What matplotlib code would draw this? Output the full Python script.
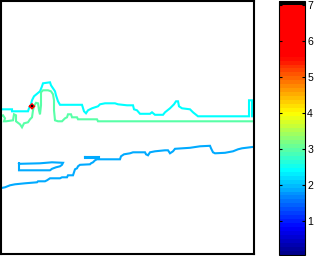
#!/usr/bin/env python3
# -*- coding: utf-8 -*-

import numpy as np
import matplotlib
matplotlib.use("Agg")
import matplotlib.pyplot as plt
from matplotlib.colors import LinearSegmentedColormap, ListedColormap, Normalize
from matplotlib.cm import ScalarMappable

plt.rcParams['font.family'] = ['Liberation Sans', 'DejaVu Sans']

# contour pieces (image coords, y downwards)
blue_x = [0, 5, 10, 15, 25, 37, 38, 45, 47, 50, 60, 62, 67, 68, 73, 74, 75, 77, 78, 80,
          90, 91, 93, 95, 97, 120, 121, 124, 130, 133, 145, 146, 148, 150, 155, 165,
          168, 170, 173, 175, 190, 200, 210, 211, 213, 215, 225, 233, 238, 242, 250, 254]
blue_y = [188, 187, 185, 184, 183, 182, 181, 181, 180, 178, 178, 177, 177, 175, 175, 172,
          169, 168, 166, 164.5, 164, 163, 162, 160, 159, 159, 156, 154, 153, 152, 152,
          154, 155, 152, 151, 150, 150, 153, 151, 148.5, 147.5, 146, 145.5, 148, 152, 153,
          152.5, 151, 149, 148, 147, 146.5]

loop_x = [19, 19, 50, 52, 56, 60, 62, 63, 52, 40, 20, 19]
loop_y = [163, 170, 170, 168.5, 167, 166, 164.5, 162.5, 162, 163, 163.5, 163]

blob_x = [85, 99, 99, 85, 85]
blob_y = [156.5, 156.5, 157.5, 157.5, 156.5]

cyan_x = [1, 12, 12, 28, 29, 31, 32, 34, 40, 42, 43, 50, 51, 55, 56, 58, 60, 82, 84, 86,
          88, 92, 98, 100, 105, 115, 118, 127, 133, 134, 137, 140, 150, 152, 155, 163,
          165, 170, 174, 176, 178, 179, 182, 190, 193, 198, 203, 249, 249, 252, 252]
cyan_y = [109, 109, 111, 111, 108, 104, 100, 96, 91, 86, 83, 82, 85, 91, 95, 101, 104.5,
          104.5, 111, 113, 110, 108, 106, 104, 103, 103, 104, 105, 105, 109, 110, 113.5,
          113.5, 112, 114.5, 114.5, 112, 108, 104, 101, 101, 106, 108, 109, 112, 116,
          116, 116, 100, 100, 116]

green_x = [1, 3, 5, 4, 6, 13, 14, 16, 16, 20, 22, 24, 28, 30, 32, 33, 34, 36, 38, 39,
           40, 41, 41, 43, 48, 51, 53, 54, 54, 55, 58, 62, 65, 67, 68, 71, 72, 77, 78,
           97, 98, 254]
green_y = [116, 115, 118, 121, 121, 120, 114, 115, 121, 124, 127, 123, 122, 119, 117, 110,
           106, 102.5, 103, 110, 114, 105, 92, 90, 90, 91, 94, 100, 110, 120, 121, 121,
           118, 117, 114, 114, 117, 117, 119, 119, 121, 121]

red_x = [30, 32, 34, 32, 30]
red_y = [106, 104, 106, 108, 106]

peak_x = [31.6, 32.4, 32.4, 31.6, 31.6]
peak_y = [105.6, 105.6, 106.4, 106.4, 105.6]

pieces = [(blue_x, blue_y, 1.9), (loop_x, loop_y, 1.9), (blob_x, blob_y, 1.9),
          (cyan_x, cyan_y, 2.4), (green_x, green_y, 2.95),
          (red_x, red_y, 6.0), (peak_x, peak_y, 7.08)]

cb_ticks = [1, 2, 3, 4, 5, 6, 7]
vmin, vmax = 0.05, 7.1


if __name__ == "__main__":

    # jet-like map that saturates to red, top band black
    base = LinearSegmentedColormap.from_list(
        'jetred', [(0.0, (0, 0, 0.55)), (0.1, (0, 0, 1)), (0.333, (0, 1, 1)),
                   (0.56, (1, 1, 0)), (0.79, (1, 0, 0)), (1.0, (1, 0, 0))])
    cols = base(np.linspace(0, 1, 64))
    cols[-1] = (0, 0, 0, 1)
    cmap = ListedColormap(cols)
    norm = Normalize(vmin, vmax)

    fig = plt.figure(figsize=(3.26, 2.56), dpi=100)
    ax = fig.add_axes([1/326, 1.7/256, 253/326, 253/256])

    for xs, ys, lev in pieces:
        ax.plot(xs, ys, color=cmap(norm(lev)), lw=1.5, solid_joinstyle='miter')

    ax.set_xlim(1, 254)
    ax.set_ylim(254, 1)
    ax.set_xticks([])
    ax.set_yticks([])
    for s in ax.spines.values():
        s.set_linewidth(1.5)

    cax = fig.add_axes([279/326, 1/256, 26/326, 254/256])
    cb = fig.colorbar(ScalarMappable(norm=norm, cmap=cmap), cax=cax)
    cb.set_ticks(cb_ticks)
    cb.outline.set_linewidth(0.8)
    cax.tick_params(direction='in', length=2.5, width=0.8, left=True, right=True,
                    labelsize=7.6, pad=1.5)

    fig.savefig('out.png', dpi=100)
